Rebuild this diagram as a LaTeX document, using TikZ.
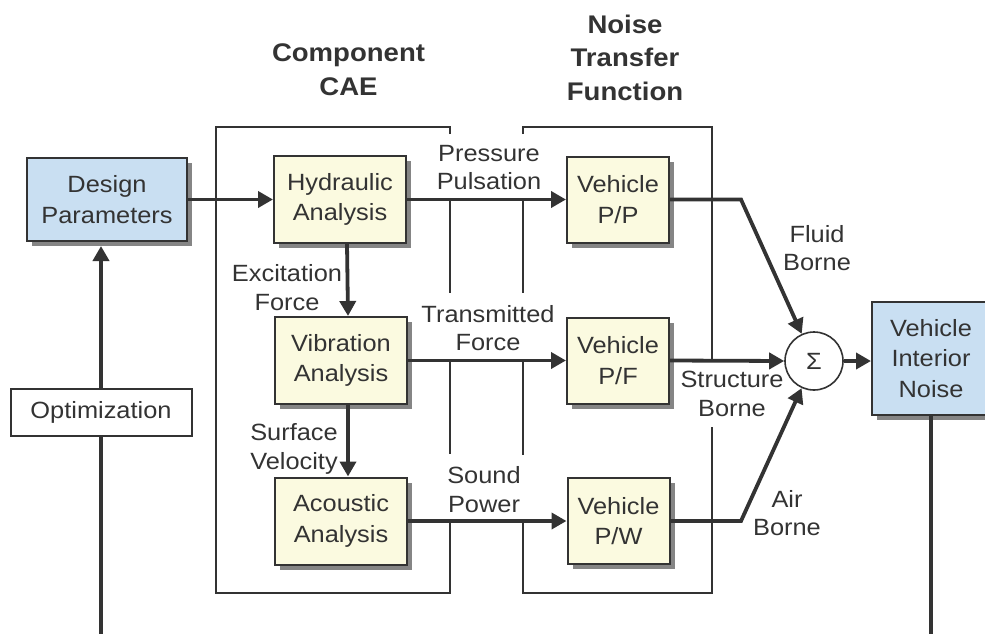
\documentclass[tikz,border=0pt]{standalone}
\usepackage{fontspec}
\setmainfont{Liberation Sans}[FakeStretch=1.08]
\usetikzlibrary{arrows.meta,shadows,calc}
\definecolor{ink}{HTML}{333333}
\definecolor{cream}{HTML}{FBFAE0}
\definecolor{paleblue}{HTML}{C9DFF2}
\definecolor{shade}{HTML}{858585}
\begin{document}
\begin{tikzpicture}[x=1pt,y=-1pt,
  every node/.style={text=ink, align=center},
  boxfont/.style={font=\fontsize{23.5}{30.5}\selectfont},
  lbl/.style={font=\fontsize{23.5}{28.5}\selectfont, inner sep=0pt},
  ttl/.style={font=\bfseries\fontsize{25.5}{33.5}\selectfont, inner sep=0pt},
  shbox/.style={boxfont, draw=ink, line width=2pt, inner sep=0pt,
    drop shadow={shadow xshift=5pt, shadow yshift=-5pt, fill=shade, opacity=1}},
  ybox/.style={shbox, fill=cream, minimum width=132pt, minimum height=87pt},
  vbox/.style={shbox, fill=cream, minimum width=102pt, minimum height=86pt},
  bbox/.style={shbox, fill=paleblue},
  obox/.style={boxfont, draw=ink, line width=2pt, fill=white, inner sep=0pt,
    minimum width=181pt, minimum height=47pt},
  sumnode/.style={circle, draw=ink, line width=1.6pt, fill=white, minimum size=58pt,
    inner sep=0pt, font=\fontsize{23.5}{28}\selectfont},
  conn/.style={draw=ink, line width=3.8pt, -{Triangle[length=15pt,width=16pt]}},
  plainline/.style={draw=ink, line width=3.8pt},
  frame/.style={draw=ink, line width=1.6pt}
]
\useasboundingbox (0,0) rectangle (985,634);

% titles
\node[ttl] (t1) at (348.5,69.5) {Component\\CAE};
\node[ttl] (t2) at (625,57.5) {Noise\\Transfer\\Function};

% frames (drawn as shapes, broken where labels sit)
\draw[frame] (450,134) -- (450,127) -- (216,127) -- (216,593) -- (450,593) -- (450,522);
\draw[frame] (450,199.5) -- (450,293);
\draw[frame] (450,361) -- (450,454);
\draw[frame] (523,134) -- (523,127) -- (712,127) -- (712,361);
\draw[frame] (523,199.5) -- (523,293);
\draw[frame] (523,361) -- (523,455);
\draw[frame] (523,522) -- (523,593) -- (712,593) -- (712,427);

% boxes
\node[bbox, minimum width=160pt, minimum height=83pt] (design) at (107,199.5) {Design\\Parameters};
\node[obox] (opt) at (101,412.5) {Optimization};
\node[ybox] (hyd) at (340,199.5) {Hydraulic\\Analysis};
\node[ybox] (vib) at (341,360.5) {Vibration\\Analysis};
\node[ybox] (aco) at (341,521) {Acoustic\\Analysis};
\node[vbox] (vpp) at (618,199.5) {Vehicle\\P/P};
\node[vbox] (vpf) at (618,360.5) {Vehicle\\P/F};
\node[vbox] (vpw) at (618.5,521) {Vehicle\\P/W};
\node[sumnode] (sig) at (814,361) {Σ};
\node[bbox, minimum width=118pt, minimum height=113pt] (noise) at (931,358.5) {Vehicle\\Interior\\Noise};

% labels
\node[lbl] (lp) at (489,167.5) {Pressure\\Pulsation};
\node[lbl] (lt) at (488,328) {Transmitted\\Force};
\node[lbl] (ls) at (484,489.5) {Sound\\Power};
\node[lbl] (le) at (287,287.5) {Excitation\\Force};
\node[lbl] (lv) at (294,449) {Surface\\Velocity};
\node[lbl] (lf) at (817,248) {Fluid\\Borne};
\node[lbl] (lst) at (732,394) {Structure\\Borne};
\node[lbl] (la) at (787,513) {Air\\Borne};

% connector bend points
\coordinate (fb) at (741,199.5);
\coordinate (ab) at (741,521);
\coordinate (bot) at (0,636);

% connectors
\draw[conn] (design.east) -- (hyd.west);
\draw[conn] (hyd.east) -- (vpp.west);
\draw[conn] (vib.east) -- (vpf.west);
\draw[conn] (aco.east) -- (vpw.west);
\draw[conn] ([xshift=7pt]hyd.south) -- ([xshift=7pt]vib.north);
\draw[conn] ([xshift=7pt]vib.south) -- ([xshift=7pt]aco.north);
\draw[conn] (vpp.east) -- (fb) -- (sig);
\draw[conn] (vpf.east) -- (sig.west);
\draw[conn] (vpw.east) -- (ab) -- (sig);
\draw[conn] (sig.east) -- (sig.east -| noise.west);
\draw[plainline] (noise.south) -- (noise.south |- bot) -| (opt.south);
\draw[conn] (opt.north) -- ($(opt.north |- design.south)+(0,4)$);
\end{tikzpicture}
\end{document}
